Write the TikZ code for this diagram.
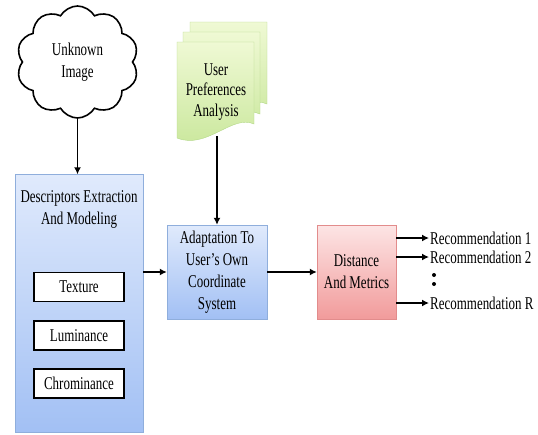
\documentclass[tikz,border=0pt]{standalone}
\usepackage{fontspec}
\setmainfont{Liberation Serif}[FakeStretch=0.72]
\usetikzlibrary{shapes.symbols,arrows.meta}

\definecolor{bluchiaro}{HTML}{E0EAFC}
\definecolor{bluscuro}{HTML}{A2C0F4}
\definecolor{bordoblu}{HTML}{8FAEDC}
\definecolor{rosachiaro}{HTML}{FDE5E5}
\definecolor{rosascuro}{HTML}{F19B9B}
\definecolor{bordorosa}{HTML}{E28C8C}
\definecolor{verdechiaro}{HTML}{EFF9D4}
\definecolor{verdescuro}{HTML}{C9E79B}
\definecolor{bordoverde}{HTML}{B4D889}

\begin{document}
\begin{tikzpicture}[x=1pt,y=-1pt,
    font=\fontsize{18}{22}\selectfont,
    freccia/.style={line width=1.8pt,-{Latex[length=7pt,width=7pt]}},
    bloccoblu/.style={draw=bordoblu,top color=bluchiaro,bottom color=bluscuro,align=center},
    bloccorosa/.style={draw=bordorosa,top color=rosachiaro,bottom color=rosascuro,align=center},
    foglio/.style={draw=bordoverde,top color=verdechiaro,bottom color=verdescuro},
    riquadro/.style={draw,line width=1.6pt,fill=white,minimum width=90pt,minimum height=29pt}]
        \useasboundingbox (0,0) rectangle (538,434);

        % Immagine in ingresso
        \node[cloud, cloud puffs=10, cloud puff arc=120, aspect=1.1, draw, line width=1.6pt,
              fill=white, minimum width=122pt, minimum height=112pt, align=center]
              (nuvola) at (77.5,62) {Unknown\\Image};

        % Pila di documenti
        \foreach \px/\py in {190/22,183/32,177/42} {
          \begin{scope}[shift={(\px,\py)}]
            \shade[foglio] (0,0) -- (77,0) -- (77,82) .. controls (55,72) and (30,108) .. (0,96) -- cycle;
          \end{scope}
        }
        \node[align=center, font=\fontsize{18}{20.5}\selectfont] (utente) at (216,92) {User\\Preferences\\Analysis};
        \coordinate (fondo) at (217,136);

        % Blocchi principali
        \node[bloccoblu, minimum width=128pt, minimum height=258pt] (descrittori) at (79,303.5) {};
        \node[align=center] (titolo) at (79,209) {Descriptors Extraction\\And Modeling};
        \node[riquadro] (texture) at (79,287) {Texture};
        \node[riquadro] (luminance) at (79,335.5) {Luminance};
        \node[riquadro] (chrominance) at (79,383.5) {Chrominance};

        \node[bloccoblu, minimum width=100pt, minimum height=94pt] (adatta) at (217,272)
              {Adaptation To\\User’s Own\\Coordinate\\System};
        \node[bloccorosa, minimum width=79pt, minimum height=94pt] (distanza) at (356.5,272)
              {Distance\\And Metrics};

        % Raccomandazioni
        \node[anchor=west, inner sep=1pt] (rec1) at (429,238) {Recommendation 1};
        \node[anchor=west, inner sep=1pt] (rec2) at (429,257) {Recommendation 2};
        \node[anchor=west, inner sep=1pt] (recR) at (429,303) {Recommendation R};
        \fill (434,275) circle (2pt);
        \fill (434,284) circle (2pt);

        % Frecce
        \draw[freccia] (nuvola.south) -- (nuvola.south |- descrittori.north);
        \draw[freccia] (fondo) -- (adatta.north);
        \draw[freccia] (descrittori.east |- adatta.west) -- (adatta.west);
        \draw[freccia] (adatta.east) -- (distanza.west);
        \draw[freccia] (distanza.east |- rec1.west) -- (rec1.west);
        \draw[freccia] (distanza.east |- rec2.west) -- (rec2.west);
        \draw[freccia] (distanza.east |- recR.west) -- (recR.west);
      \end{tikzpicture}
\end{document}
